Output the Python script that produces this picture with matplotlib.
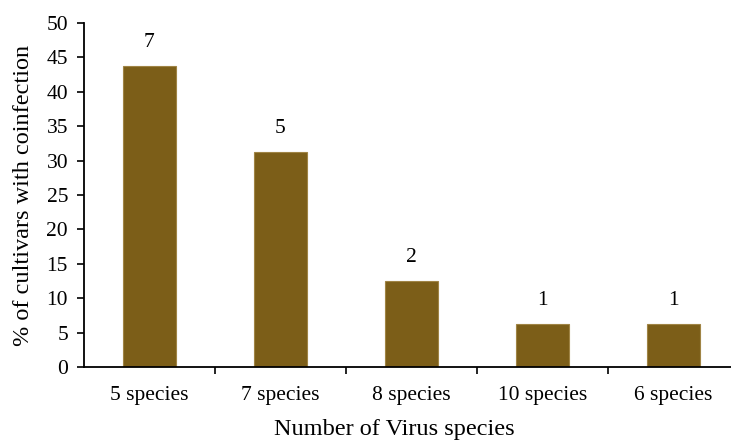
import matplotlib
matplotlib.use("Agg")
import matplotlib.pyplot as plt
import numpy as np

categories = ["5 species", "7 species", "8 species", "10 species", "6 species"]
counts = [7, 5, 2, 1, 1]
percent = [43.75, 31.25, 12.5, 6.25, 6.25]
y_ticks = [0, 5, 10, 15, 20, 25, 30, 35, 40, 45, 50]

plt.rcParams["font.family"] = ["Liberation Serif", "DejaVu Serif"]

fig = plt.figure(figsize=(7.31, 4.43), dpi=100)
ax = fig.add_axes([84 / 731, 1 - 367 / 443, 1 - 84 / 731, (367 - 23) / 443])

x = np.arange(len(categories))
bars = ax.bar(x, percent, width=0.4, color="#7C5E18", edgecolor="#A08445", linewidth=0.8)

for xi, p, c in zip(x, percent, counts):
    ax.annotate(str(c), (xi, p), xytext=(0, 10), textcoords="offset points",
                ha="center", va="bottom", fontsize=15.5)

ax.set_ylim(0, 50)
ax.set_yticks(y_ticks)
ax.set_xlim(-0.5, 4.44)

# category boundaries carry the tick marks, centers carry the labels
ax.set_xticks(np.arange(-0.5, 4.5, 1.0)[1:])
ax.set_xticklabels([])
ax.set_xticks(x, minor=True)
ax.set_xticklabels(categories, minor=True, fontsize=15.5)
ax.tick_params(axis="x", which="major", direction="out", length=5, width=1.2)
ax.tick_params(axis="x", which="minor", length=0, pad=13.5)
ax.tick_params(axis="y", direction="out", length=5, width=1.2, labelsize=15.5, pad=6.5)

for s in ["top", "right"]:
    ax.spines[s].set_visible(False)
for s in ["left", "bottom"]:
    ax.spines[s].set_linewidth(1.3)

ax.set_ylabel("% of cultivars with coinfection", fontsize=17.5, labelpad=9)
ax.set_xlabel("Number of Virus species", fontsize=17.5)
ax.xaxis.set_label_coords(0.479, -0.152)

fig.savefig("out.png", dpi=100)
